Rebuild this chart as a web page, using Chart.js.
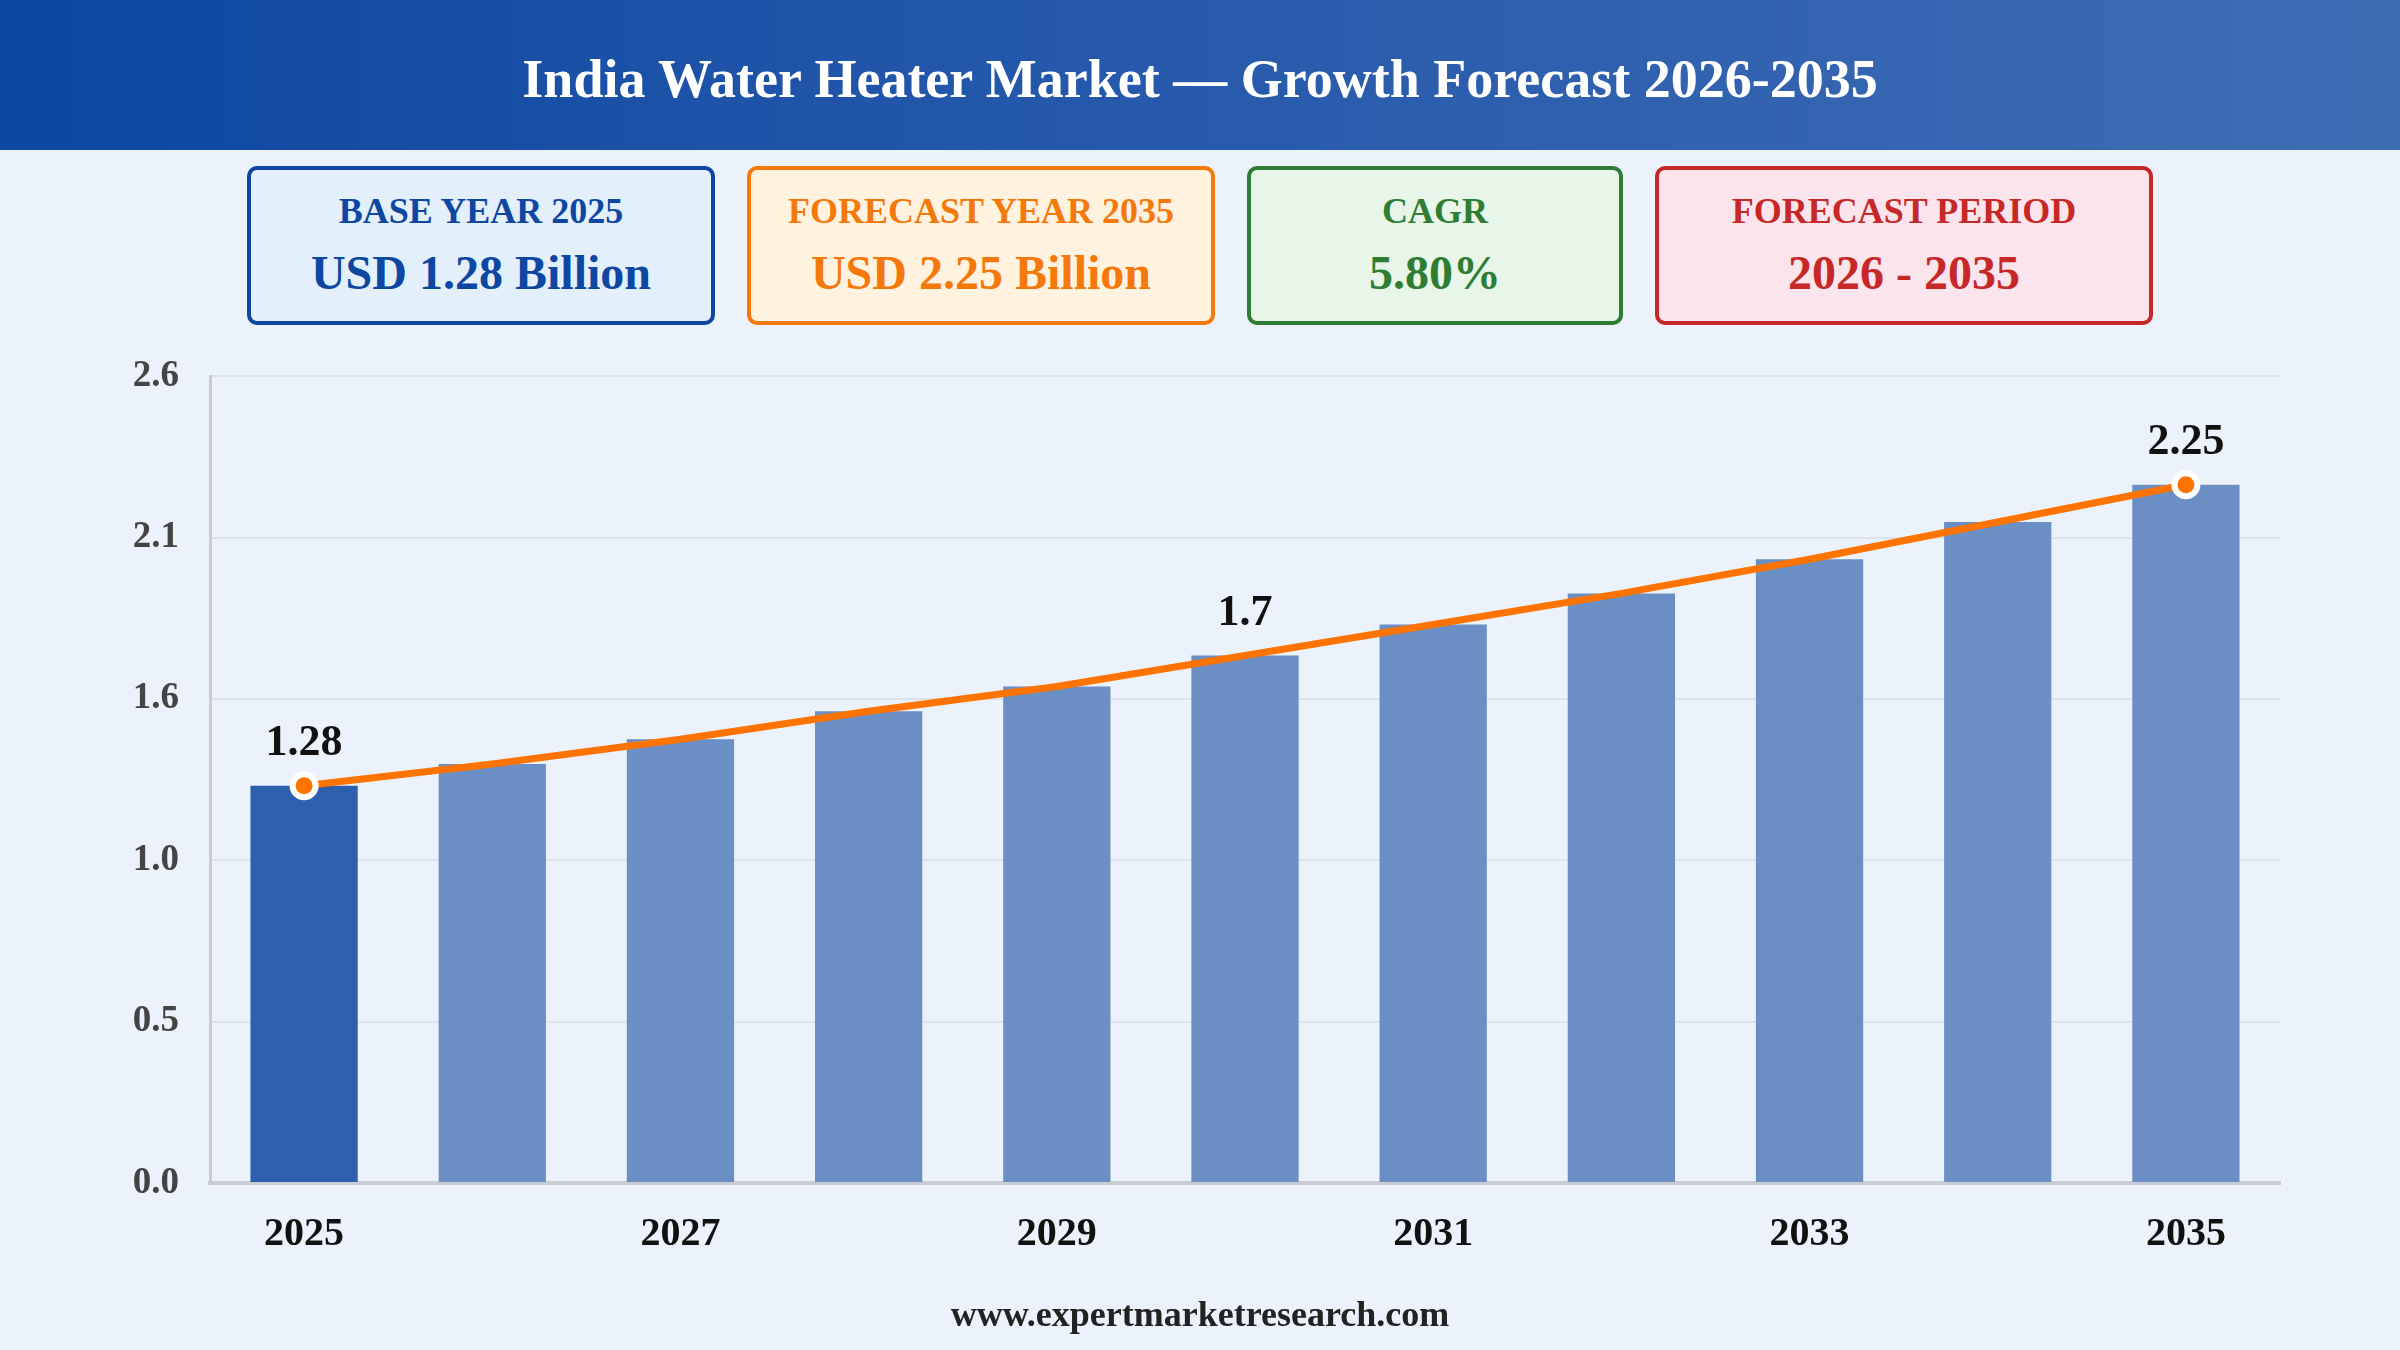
<!DOCTYPE html>
<html>
<head>
<meta charset="utf-8">
<script src="https://cdn.jsdelivr.net/npm/chart.js@4.4.1/dist/chart.umd.min.js"></script>
<style>
  html, body { margin: 0; padding: 0; }
  body {
    width: 2400px; height: 1350px; position: relative; overflow: hidden;
    background: #ebf2fb;
    font-family: "Liberation Serif", "DejaVu Serif", serif;
  }
  .header {
    position: absolute; left: 0; top: 0; width: 2400px; height: 150px;
    background: linear-gradient(90deg, #0d47a1 0%, #2a5cad 55%, #3f6db4 100%);
    color: #fff; font-weight: bold; font-size: 54px;
    display: flex; align-items: center; justify-content: center;
    padding-top: 8px; box-sizing: border-box;
  }
  .kpis {
    position: absolute; top: 166px; left: 0; width: 2400px;
    display: flex; justify-content: center; gap: 32px;
  }
  .kpi {
    box-sizing: border-box; height: 159px; border: 4px solid; border-radius: 10px;
    display: flex; flex-direction: column; align-items: center; justify-content: center;
    font-weight: bold;
  }
  .kpi .lbl { font-size: 36px; line-height: 44px; }
  .kpi .val { font-size: 48px; line-height: 60px; margin-top: 10px; }
  .blue { width: 468px; background: #e3f0fc; border-color: #0d47a1; color: #0d47a1; }
  .orange { width: 468px; background: #fff2df; border-color: #f5780a; color: #f5780a; }
  .green { width: 376px; background: #e8f5e9; border-color: #2e7d32; color: #2e7d32; }
  .red { width: 498px; background: #fce4ec; border-color: #c62828; color: #c62828; }
  #wrap { position: absolute; left: 0; top: 323px; width: 2400px; height: 977px; }
  .footer {
    position: absolute; left: 0; top: 1293px; width: 2400px; text-align: center;
    font-size: 36px; font-weight: bold; color: #222;
  }
</style>
</head>
<body>
<div class="header">India Water Heater Market — Growth Forecast 2026-2035</div>
<div class="kpis">
  <div class="kpi blue"><div class="lbl">BASE YEAR 2025</div><div class="val">USD 1.28 Billion</div></div>
  <div class="kpi orange"><div class="lbl">FORECAST YEAR 2035</div><div class="val">USD 2.25 Billion</div></div>
  <div class="kpi green"><div class="lbl">CAGR</div><div class="val">5.80%</div></div>
  <div class="kpi red"><div class="lbl">FORECAST PERIOD</div><div class="val">2026 - 2035</div></div>
</div>
<div id="wrap"><canvas id="chart"></canvas></div>
<div class="footer">www.expertmarketresearch.com</div>

<script>
const years = ["2025", "2026", "2027", "2028", "2029", "2030", "2031", "2032", "2033", "2034", "2035"];
const marketSize = [1.28, 1.35, 1.43, 1.52, 1.60, 1.70, 1.80, 1.90, 2.01, 2.13, 2.25];
const yTicks = [0, 0.52, 1.04, 1.56, 2.08, 2.6];
const labelledYears = ["2025", "2030", "2035"];
const dottedYears = ["2025", "2035"];

const serif = "'Liberation Serif', 'DejaVu Serif', serif";

const valueLabels = {
  id: "valueLabels",
  afterDatasetsDraw(chart) {
    const ctx = chart.ctx;
    const meta = chart.getDatasetMeta(1);
    ctx.save();
    ctx.font = "bold 44px " + serif;
    ctx.fillStyle = "#111";
    ctx.textAlign = "center";
    ctx.textBaseline = "middle";
    years.forEach((y, i) => {
      if (!labelledYears.includes(y)) return;
      const pt = meta.data[i];
      ctx.fillText(String(marketSize[i]), pt.x, pt.y - 42);
    });
    ctx.restore();
  },
};

const ctx = document.getElementById("chart").getContext("2d");
new Chart(ctx, {
  type: "bar",
  data: {
    labels: years,
    datasets: [
      {
        type: "line",
        data: marketSize,
        borderColor: "#ff7300",
        borderWidth: 7,
        tension: 0,
        pointRadius: years.map((y) => (dottedYears.includes(y) ? 11.5 : 0)),
        pointBackgroundColor: "#ff7300",
        pointBorderColor: "#ffffff",
        pointBorderWidth: 6,
        order: 0,
      },
      {
        type: "bar",
        data: marketSize,
        backgroundColor: years.map((y, i) => (i === 0 ? "#2e5fae" : "#6b8ec4")),
        barPercentage: 0.57,
        categoryPercentage: 1.0,
        order: 1,
      },
    ],
  },
  options: {
    responsive: true,
    maintainAspectRatio: false,
    animation: false,
    layout: { padding: { top: 18, right: 120, left: 0, bottom: 0 } },
    plugins: {
      legend: { display: false },
      tooltip: { enabled: false },
    },
    scales: {
      x: {
        grid: { display: false },
        border: { color: "#c8cdd3", width: 4 },
        afterFit: (scale) => { scale.height = 117; },
        ticks: {
          autoSkip: false,
          maxRotation: 0,
          padding: 20,
          color: "#111",
          font: { family: serif, size: 40, weight: "bold" },
          callback: (v, i) => (i % 2 === 0 ? years[i] : ""),
        },
      },
      y: {
        min: 0,
        max: 2.6,
        afterFit: (scale) => { scale.width = 210; },
        afterBuildTicks: (scale) => { scale.ticks = yTicks.map((v) => ({ value: v })); },
        grid: { color: "#dde3ea", lineWidth: 2, drawTicks: false },
        border: { color: "#c8ccd2", width: 3 },
        ticks: {
          padding: 31,
          color: "#444",
          font: { family: serif, size: 37, weight: "bold" },
          callback: (v) => v.toFixed(1),
        },
      },
    },
  },
  plugins: [valueLabels],
});
</script>
</body>
</html>
